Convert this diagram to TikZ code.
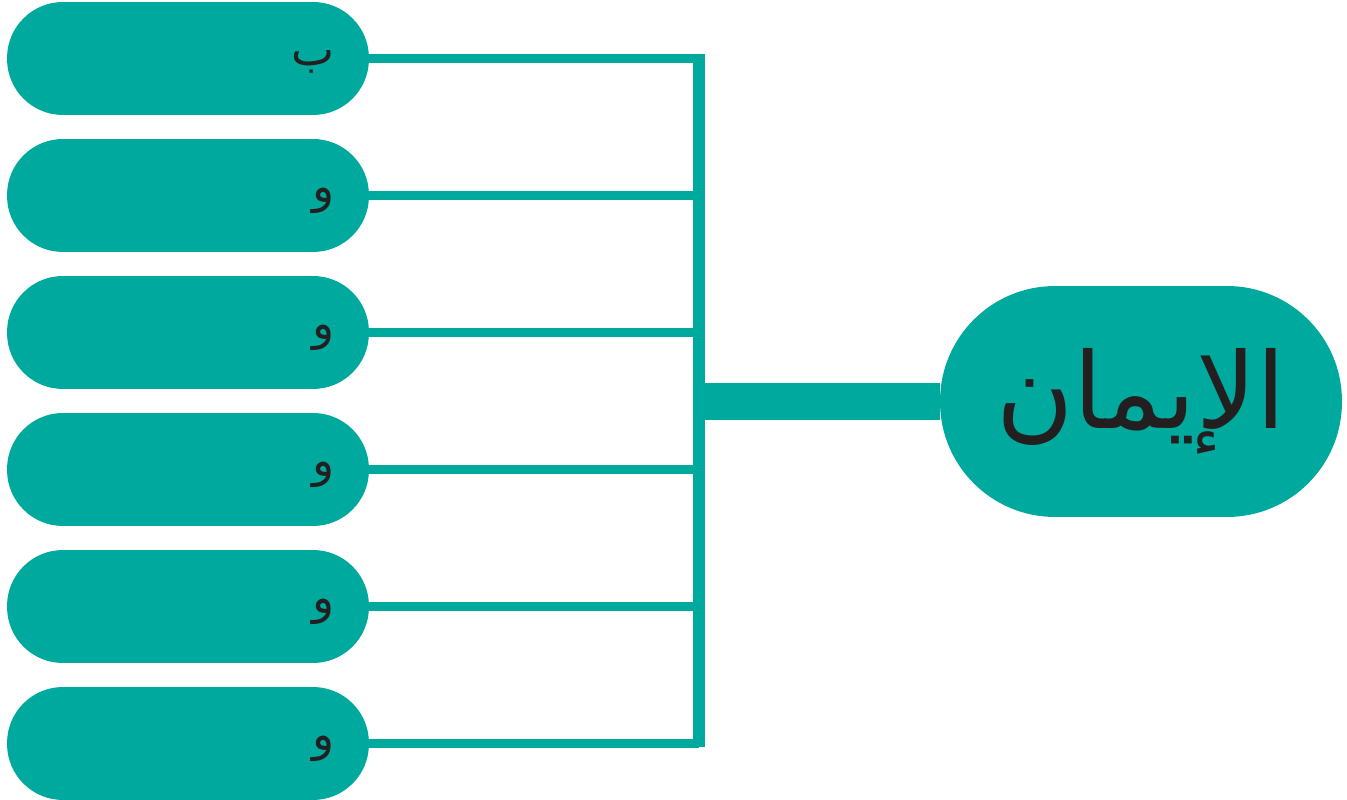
\documentclass[tikz,border=0pt]{standalone}
\usepackage{fontspec}
\TeXXeTstate=1
\newfontfamily\arabicfont[Script=Arabic]{DejaVu Sans}
\usetikzlibrary{positioning}
\definecolor{imanteal}{HTML}{00A99D}
\definecolor{inkblack}{HTML}{231F20}
\tikzset{
    pill/.style={fill=imanteal, rounded corners=1.12cm, minimum height=2.26cm,
        text width=5.88cm, inner xsep=0.68cm, inner ysep=0pt, align=right,
        text height=0.4cm, text depth=0.12cm,
        text=inkblack, font=\arabicfont\fontsize{26}{30}\selectfont},
    mainpill/.style={fill=imanteal, rounded corners=2.3cm, minimum height=4.62cm,
        minimum width=8.04cm, text=inkblack, font=\arabicfont\fontsize{60}{64}\selectfont},
    twig/.style={draw=imanteal, line width=0.17cm},
    trunk/.style={draw=imanteal, line width=0.24cm},
    spine/.style={draw=imanteal, line width=0.76cm}
}
\begin{document}
\begin{tikzpicture}[x=0.02cm, y=-0.02cm]
    \useasboundingbox (0,0) rectangle (1347,800);
    \node[mainpill] (iman) at (1141,401.5) {\beginR الإيمان\endR};
    \foreach \i/\t in {1/ب,2/و,3/و,4/و,5/و,6/و}
        \node[pill] (b\i) at (188,{58.5+137*(\i-1)}) {\beginR \t\endR};
    \coordinate (bartop) at (699,54);
    \coordinate (barbot) at (699,747);
    \coordinate (bar) at (699,401.5);
    \draw[trunk] (bartop) -- (barbot);
    \draw[spine] (iman.west) -- (bar);
    \foreach \i in {1,...,6}
        \draw[twig] (b\i.east) -- (b\i.east -| bar);
\end{tikzpicture}
\end{document}
